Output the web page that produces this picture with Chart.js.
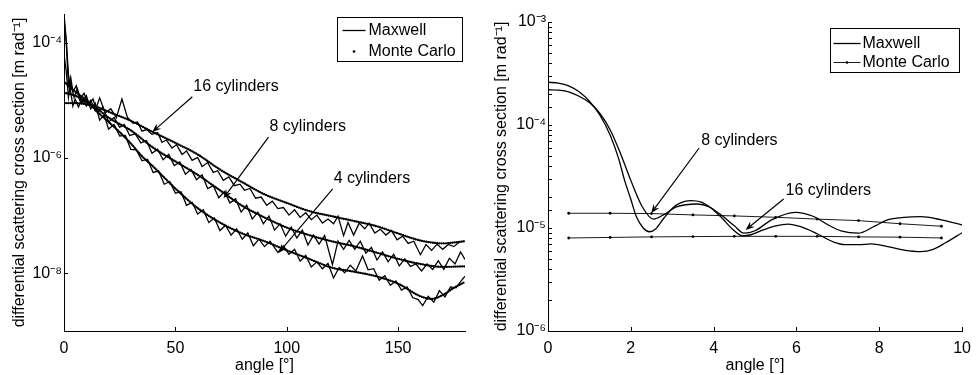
<!DOCTYPE html>
<html>
<head>
<meta charset="utf-8">
<script src="https://cdn.jsdelivr.net/npm/chart.js@4.4.0/dist/chart.umd.min.js"></script>
<style>
html, body { margin: 0; padding: 0; background: #fff; }
#wrap { position: relative; width: 979px; height: 375px; overflow: hidden; }
canvas { position: absolute; top: 0; }
#cLeft { left: 0; }
#cRight { left: 490px; }
</style>
</head>
<body>
<div id="wrap">
  <canvas id="cLeft" width="490" height="375"></canvas>
  <canvas id="cRight" width="489" height="375"></canvas>
</div>
<script>
// ---- left panel: 0..180 degrees ----
const mcAngle = [0, 5, 10, 15, 20, 30, 40, 50, 60, 70, 80, 90, 100, 110, 120, 130, 140, 150, 160, 170, 180];
const mc16 = [8.9e-6, 8.9e-6, 8.5e-6, 7.6e-6, 6.3e-6, 4.4e-6, 2.8e-6, 1.82e-6, 1.15e-6, 6.3e-7, 3.8e-7, 2.34e-7, 1.66e-7, 1.2e-7, 9.8e-8, 8.1e-8, 6.6e-8, 4.9e-8, 3.7e-8, 3.3e-8, 3.6e-8];
const mc8 = [1.35e-5, 1.2e-5, 9.3e-6, 7.1e-6, 5.0e-6, 3.0e-6, 1.51e-6, 8.7e-7, 5.1e-7, 2.75e-7, 1.48e-7, 9.3e-8, 6.2e-8, 4.6e-8, 3.6e-8, 2.95e-8, 2.3e-8, 1.78e-8, 1.45e-8, 1.29e-8, 1.32e-8];
const mc4Angle = [0, 5, 10, 15, 20, 25, 30, 35, 40, 50, 60, 70, 80, 90, 100, 110, 120, 130, 140, 150, 160, 165, 170, 175, 180];
const mc4 = [2.1e-5, 1.41e-5, 1.0e-5, 6.3e-6, 4.2e-6, 2.8e-6, 1.78e-6, 1.07e-6, 7.1e-7, 2.95e-7, 1.35e-7, 7.6e-8, 4.9e-8, 3.6e-8, 2.5e-8, 1.78e-8, 1.26e-8, 1.07e-8, 8.9e-9, 6.6e-9, 4.0e-9, 3.6e-9, 4.2e-9, 5.6e-9, 7.1e-9];

const mx16Angle = [0, 1, 2, 3, 4, 5, 6.5, 8, 10, 12, 14, 16, 18.5, 21, 23.5, 26, 28.5, 31, 33, 35, 37, 39.5, 42, 44, 46, 48.5, 50.5, 53, 55, 57.5, 60, 62, 64.5, 67, 69, 71.5, 74, 76.5, 79, 81, 83.5, 86, 88.5, 91, 93.5, 96, 98.5, 101, 103.5, 106, 108.5, 111, 113.5, 116, 118.5, 121, 123, 125.5, 127.5, 130, 132.5, 135, 137, 139.5, 142, 144.5, 147, 149.5, 152, 154.5, 157, 160, 162.5, 165, 167.5, 170, 172.5, 175, 177.5, 180];
const mx16 = [3.1e-4, 1.12e-4, 2.8e-5, 1.41e-5, 7.9e-6, 1.05e-5, 7.6e-6, 1.05e-5, 7.9e-6, 1.0e-5, 6.6e-6, 1.1e-5, 6.0e-6, 7.1e-6, 5.0e-6, 1.05e-5, 5.0e-6, 4.0e-6, 4.2e-6, 2.9e-6, 3.1e-6, 2.57e-6, 2.75e-6, 1.86e-6, 2.04e-6, 1.48e-6, 1.7e-6, 1.15e-6, 1.32e-6, 9.1e-7, 1.02e-6, 7.1e-7, 8.3e-7, 5.6e-7, 6.0e-7, 4.1e-7, 4.7e-7, 3.3e-7, 3.5e-7, 2.75e-7, 2.95e-7, 2.0e-7, 2.1e-7, 1.51e-7, 1.78e-7, 1.32e-7, 1.38e-7, 1.02e-7, 1.26e-7, 9.3e-8, 1.12e-7, 8.5e-8, 1.02e-7, 7.4e-8, 8.7e-8, 7.2e-8, 9.8e-8, 4.5e-8, 7.6e-8, 4.6e-8, 7.4e-8, 5.9e-8, 7.4e-8, 5.0e-8, 5.8e-8, 4.6e-8, 5.5e-8, 3.8e-8, 4.4e-8, 3.3e-8, 3.6e-8, 2.1e-8, 3.16e-8, 2.5e-8, 3.2e-8, 2.6e-8, 3.16e-8, 2.9e-8, 3.5e-8, 3.6e-8];

const mx8Angle = [0, 1, 2, 3, 4, 5.5, 7, 9, 11, 13, 15, 17.5, 20, 22.5, 25, 27, 29.5, 32, 34.5, 37, 39.5, 42, 44.5, 47, 49.5, 52, 54.5, 57, 59.5, 62, 64.5, 67, 69.5, 72, 74.5, 77, 79.5, 82, 84.5, 87, 89.5, 92, 94.5, 97, 99.5, 102, 104.5, 107, 109.5, 112, 114.5, 117, 120.5, 123, 125.5, 128, 130.5, 133, 135.5, 138, 140.5, 143, 145.5, 148, 150.5, 153, 155.5, 158, 160.5, 163, 165.5, 168, 170.5, 173, 175.5, 178, 180];
const mx8 = [2.5e-4, 1.0e-4, 1.78e-5, 2.5e-5, 1.41e-5, 1.78e-5, 1.0e-5, 1.32e-5, 8.3e-6, 1.05e-5, 6.0e-6, 7.6e-6, 4.2e-6, 5.0e-6, 3.4e-6, 3.8e-6, 2.45e-6, 2.6e-6, 1.82e-6, 2.0e-6, 1.2e-6, 1.41e-6, 9.3e-7, 1.15e-6, 7.4e-7, 8.5e-7, 5.2e-7, 6.3e-7, 4.2e-7, 5.1e-7, 2.95e-7, 3.3e-7, 2.04e-7, 2.6e-7, 1.66e-7, 1.95e-7, 1.15e-7, 1.51e-7, 8.7e-8, 1.15e-7, 7.2e-8, 9.8e-8, 5.6e-8, 7.2e-8, 4.4e-8, 6.3e-8, 4.1e-8, 5.6e-8, 3.1e-8, 4.6e-8, 3.2e-8, 4.5e-8, 1.41e-8, 3.6e-8, 2.6e-8, 3.7e-8, 2.6e-8, 3.6e-8, 2.24e-8, 2.8e-8, 1.7e-8, 2.34e-8, 1.58e-8, 2.14e-8, 1.35e-8, 1.78e-8, 1.32e-8, 1.45e-8, 1.1e-8, 1.45e-8, 1.17e-8, 1.66e-8, 1.17e-8, 1.82e-8, 1.45e-8, 2.34e-8, 1.74e-8];

const mx4Angle = [0, 1, 2, 3, 4.5, 6, 8, 10, 12, 14, 16, 18, 20, 22.5, 25, 27.5, 30, 32.5, 35, 37.5, 40, 42.5, 45, 47.5, 50, 52.5, 55, 57.5, 60, 62.5, 65, 67.5, 70, 72.5, 75, 77.5, 80, 82.5, 85, 87.5, 90, 92.5, 96, 98.5, 101, 103.5, 106, 108.5, 111, 113.5, 116, 118.5, 121, 123.5, 126, 128.5, 131, 134, 136.5, 139, 141.5, 144, 146.5, 149, 151.5, 154, 156.5, 159, 161, 163.5, 166, 168.5, 171, 173.5, 176, 178, 180];
const mx4 = [6.3e-5, 3.16e-5, 1.12e-5, 2.0e-5, 1.12e-5, 1.58e-5, 8.9e-6, 1.2e-5, 7.1e-6, 8.9e-6, 4.5e-6, 5.6e-6, 3.16e-6, 3.8e-6, 2.4e-6, 2.45e-6, 1.41e-6, 1.38e-6, 8.9e-7, 9.5e-7, 5.6e-7, 5.9e-7, 3.5e-7, 3.9e-7, 2.45e-7, 2.6e-7, 1.51e-7, 1.7e-7, 1.07e-7, 1.26e-7, 7.6e-8, 9.1e-8, 5.5e-8, 6.8e-8, 4.6e-8, 5.9e-8, 3.9e-8, 5.0e-8, 3.0e-8, 3.9e-8, 2.9e-8, 3.6e-8, 2.3e-8, 3.0e-8, 2.14e-8, 2.6e-8, 1.62e-8, 2.04e-8, 1.29e-8, 1.58e-8, 1.2e-8, 1.48e-8, 8.3e-9, 1.26e-8, 1.02e-8, 1.38e-8, 1.1e-8, 2.0e-8, 1.15e-8, 1.2e-8, 7.6e-9, 9.1e-9, 6.2e-9, 7.4e-9, 5.1e-9, 5.8e-9, 3.8e-9, 3.5e-9, 2.75e-9, 4.0e-9, 3.16e-9, 5.0e-9, 3.9e-9, 5.8e-9, 5.6e-9, 7.2e-9, 8.9e-9];

const leftXTicks = [0, 50, 100, 150];
const leftYTicks = [1e-8, 1e-6, 1e-4];

// ---- right panel: 0..10 degrees ----
const rMcAngle = [0.5, 1.5, 2.5, 3.5, 4.5, 5.5, 6.5, 7.5, 8.5, 9.5];
const rMc8 = [1.39e-5, 1.39e-5, 1.38e-5, 1.34e-5, 1.31e-5, 1.27e-5, 1.22e-5, 1.18e-5, 1.1e-5, 1.04e-5];
const rMc16 = [8.0e-6, 8.1e-6, 8.2e-6, 8.25e-6, 8.3e-6, 8.3e-6, 8.3e-6, 8.2e-6, 8.15e-6, 8.0e-6];

const rMx16Angle = [0, 0.25, 0.5, 0.75, 1.0, 1.25, 1.5, 1.7, 1.85, 2.0, 2.13, 2.3, 2.45, 2.6, 2.8, 3.0, 3.2, 3.45, 3.7, 3.95, 4.2, 4.45, 4.7, 4.9, 5.2, 5.5, 5.8, 6.1, 6.5, 6.9, 7.17, 7.5, 7.8, 8.2, 8.6, 9.0, 9.3, 9.6, 10];
const rMx16 = [2.6e-4, 2.55e-4, 2.4e-4, 2.1e-4, 1.7e-4, 1.25e-4, 8.0e-5, 4.8e-5, 2.9e-5, 1.9e-5, 1.3e-5, 1.0e-5, 9.2e-6, 9.8e-6, 1.25e-5, 1.55e-5, 1.75e-5, 1.84e-5, 1.78e-5, 1.55e-5, 1.25e-5, 9.8e-6, 8.4e-6, 8.6e-6, 9.6e-6, 1.05e-5, 1.09e-5, 1.03e-5, 8.8e-6, 7.3e-6, 6.9e-6, 6.9e-6, 7.0e-6, 6.6e-6, 6.1e-6, 5.9e-6, 6.2e-6, 7.2e-6, 9.0e-6];
const rMx8Angle = [0, 0.25, 0.5, 0.75, 1.0, 1.25, 1.5, 1.75, 2.0, 2.28, 2.55, 2.8, 3.1, 3.6, 3.9, 4.2, 4.5, 4.73, 5.0, 5.4, 5.97, 6.4, 6.77, 7.1, 7.49, 7.9, 8.2, 8.6, 9.0, 9.5, 10];
const rMx8 = [2.2e-4, 2.18e-4, 2.1e-4, 1.9e-4, 1.65e-4, 1.3e-4, 9.0e-5, 5.3e-5, 2.9e-5, 1.6e-5, 1.22e-5, 1.35e-5, 1.6e-5, 1.71e-5, 1.6e-5, 1.32e-5, 1.05e-5, 8.9e-6, 9.4e-6, 1.2e-5, 1.42e-5, 1.3e-5, 1.07e-5, 9.3e-6, 8.9e-6, 1.05e-5, 1.2e-5, 1.27e-5, 1.29e-5, 1.2e-5, 1.07e-5];

const rightXTicks = [0, 2, 4, 6, 8, 10];

const legendLabels = ['Maxwell', 'Monte Carlo'];
const yTitle = 'differential scattering cross section [m rad\u207B\u00B9]';
const xTitle = 'angle [\u00B0]';

const FONT = "'Liberation Sans', Arial, Helvetica, sans-serif";
const font16 = { family: FONT, size: 16 };

function pts(xs, ys) {
	return xs.map((x, i) => ({ x: x, y: ys[i] }));
}

function powLabel(v) {
	let e = Math.round(Math.log10(v));
	if (Math.abs(Math.log10(v) - e) > 1e-6) {
		return '';
	}
	const sup = { '-': '\u207B', '0': '\u2070', '1': '\u00B9', '2': '\u00B2', '3': '\u00B3', '4': '\u2074', '5': '\u2075', '6': '\u2076', '7': '\u2077', '8': '\u2078', '9': '\u2079' };
	return '10' + String(e).split('').map(c => sup[c]).join('');
}

function arrow(ctx, x0, y0, x1, y1) {
	let ang = Math.atan2(y1 - y0, x1 - x0);
	let c = Math.cos(ang), s = Math.sin(ang);
	let len = 9, half = 3.5, back = 6;
	ctx.beginPath();
	ctx.moveTo(x0, y0);
	ctx.lineTo(x1 - c * back, y1 - s * back);
	ctx.stroke();
	ctx.beginPath();
	ctx.moveTo(x1, y1);
	ctx.lineTo(x1 - len * c + half * s, y1 - len * s - half * c);
	ctx.lineTo(x1 - back * c, y1 - back * s);
	ctx.lineTo(x1 - len * c - half * s, y1 - len * s + half * c);
	ctx.closePath();
	ctx.fill();
}

// inward ticks, arrows with labels, legend box
const decor = {
	id: 'decor',
	afterDraw(chart, args, o) {
		const ctx = chart.ctx;
		const a = chart.chartArea;
		const sx = chart.scales.x, sy = chart.scales.y;
		ctx.save();
		ctx.strokeStyle = '#000';
		ctx.fillStyle = '#000';
		ctx.lineWidth = 1;
		ctx.beginPath();
		sx.ticks.forEach(t => {
			let p = Math.round(sx.getPixelForValue(t.value)) + 0.5;
			ctx.moveTo(p, a.bottom);
			ctx.lineTo(p, a.bottom - 4);
		});
		sy.ticks.forEach(t => {
			let p = Math.round(sy.getPixelForValue(t.value)) + 0.5;
			ctx.moveTo(a.left, p);
			ctx.lineTo(a.left + 4, p);
		});
		ctx.stroke();

		ctx.font = '16px ' + FONT;
		ctx.textBaseline = 'middle';
		ctx.textAlign = 'left';
		ctx.lineWidth = 1.2;
		o.notes.forEach(n => {
			let x0 = sx.getPixelForValue(n.tail[0]), y0 = sy.getPixelForValue(n.tail[1]);
			let x1 = sx.getPixelForValue(n.tip[0]), y1 = sy.getPixelForValue(n.tip[1]);
			arrow(ctx, x0, y0, x1, y1);
			ctx.fillText(n.text, x0 + n.dx, y0 + n.dy);
		});

		const L = o.legend;
		let bx = Math.round(a.right - L.right - L.w) + 0.5;
		let by = Math.round(a.top + L.top) + 0.5;
		ctx.fillStyle = '#fff';
		ctx.fillRect(bx, by, L.w, L.h);
		ctx.lineWidth = 1;
		ctx.strokeRect(bx, by, L.w, L.h);
		ctx.fillStyle = '#000';
		ctx.lineWidth = 1.3;
		ctx.beginPath();
		ctx.moveTo(bx + L.l0, by + L.y1);
		ctx.lineTo(bx + L.l1, by + L.y1);
		ctx.stroke();
		ctx.fillText(legendLabels[0], bx + L.tx, by + L.y1 + 0.5);
		if (L.mcLine) {
			ctx.lineWidth = 0.9;
			ctx.beginPath();
			ctx.moveTo(bx + L.l0, by + L.y2);
			ctx.lineTo(bx + L.l1, by + L.y2);
			ctx.stroke();
		}
		ctx.beginPath();
		ctx.arc(bx + (L.l0 + L.l1) / 2, by + L.y2, 1.3, 0, Math.PI * 2);
		ctx.fill();
		ctx.fillText(legendLabels[1], bx + L.tx, by + L.y2 + 0.5);
		ctx.restore();
	}
};

function axisCommon() {
	return {
		grid: { display: false, drawTicks: false },
		border: { display: true, color: '#000', width: 1 },
	};
}

function makeChart(el, cfg) {
	return new Chart(el, {
		type: 'line',
		data: { datasets: cfg.datasets },
		options: {
			responsive: false,
			animation: false,
			events: [],
			layout: { padding: { top: cfg.top, right: cfg.right, left: 0, bottom: 0 } },
			scales: {
				x: Object.assign(axisCommon(), {
					type: 'linear', min: cfg.xMin, max: cfg.xMax,
					afterBuildTicks: s => { s.ticks = cfg.xTicks.map(v => ({ value: v })); },
					afterFit: s => { s.height = 44; },
					ticks: { color: '#000', font: font16, padding: cfg.xPad, maxRotation: 0, autoSkip: false },
					title: { display: true, text: xTitle, color: '#000', font: font16, padding: { top: 0, bottom: 0 } },
				}),
				y: Object.assign(axisCommon(), {
					type: 'logarithmic', min: cfg.yMin, max: cfg.yMax,
					afterBuildTicks: cfg.yTicks ? (s => { s.ticks = cfg.yTicks.map(v => ({ value: v })); }) : undefined,
					afterFit: s => { s.width = cfg.yWidth; },
					ticks: { color: '#000', font: font16, padding: 2, autoSkip: false, callback: v => powLabel(v) },
					title: { display: true, text: yTitle, color: '#000', font: font16, padding: { top: cfg.yTitlePad, bottom: 0 } },
				}),
			},
			plugins: {
				legend: { display: false },
				tooltip: { enabled: false },
				decor: { notes: cfg.notes, legend: cfg.legend },
			},
		},
		plugins: [decor],
	});
}

function maxwellSet(label, xs, ys, smooth) {
	return {
		label: label, data: pts(xs, ys), borderColor: '#000', borderWidth: 1.3,
		pointRadius: 0, fill: false, tension: smooth ? 0.4 : 0,
		cubicInterpolationMode: smooth ? 'monotone' : 'default',
	};
}

function dotSet(label, xs, ys) {
	return {
		label: label, data: pts(xs, ys), borderColor: '#000', borderWidth: 2.3,
		borderDash: [0.1, 2.1], borderCapStyle: 'round',
		pointRadius: 0, fill: false, tension: 0.4, cubicInterpolationMode: 'monotone',
	};
}

function markSet(label, xs, ys) {
	return {
		label: label, data: pts(xs, ys), borderColor: '#000', borderWidth: 0.9,
		pointRadius: 1.4, pointBackgroundColor: '#000', pointBorderWidth: 0,
		fill: false, tension: 0,
	};
}

makeChart(document.getElementById('cLeft'), {
	datasets: [
		maxwellSet('Maxwell 16', mx16Angle, mx16, false),
		maxwellSet('Maxwell 8', mx8Angle, mx8, false),
		maxwellSet('Maxwell 4', mx4Angle, mx4, false),
		dotSet('Monte Carlo 16', mcAngle, mc16),
		dotSet('Monte Carlo 8', mcAngle, mc8),
		dotSet('Monte Carlo 4', mc4Angle, mc4),
	],
	xMin: 0, xMax: 180, xTicks: leftXTicks, xPad: 8,
	yMin: 1e-9, yMax: 3.12e-4, yTicks: leftYTicks,
	yWidth: 64, yTitlePad: 10, top: 14, right: 25,
	notes: [
		{ text: '16 cylinders', tail: [57.6, 1.15e-5], tip: [39.6, 2.8e-6], dx: 1, dy: -10 },
		{ text: '8 cylinders', tail: [91.8, 2.3e-6], tip: [71.6, 2.0e-7], dx: 1, dy: -10 },
		{ text: '4 cylinders', tail: [120.6, 2.9e-7], tip: [96.3, 2.25e-8], dx: 1, dy: -10 },
	],
	legend: { w: 125, h: 44, right: 3, top: 3, l0: 5, l1: 28, tx: 31, y1: 13, y2: 34, mcLine: false },
});

makeChart(document.getElementById('cRight'), {
	datasets: [
		maxwellSet('Maxwell 16', rMx16Angle, rMx16, true),
		maxwellSet('Maxwell 8', rMx8Angle, rMx8, true),
		markSet('Monte Carlo 8', rMcAngle, rMc8),
		markSet('Monte Carlo 16', rMcAngle, rMc16),
	],
	xMin: 0, xMax: 10, xTicks: rightXTicks, xPad: 8,
	yMin: 1e-6, yMax: 1e-3, yTicks: null,
	yWidth: 58, yTitlePad: 2, top: 22, right: 14,
	notes: [
		{ text: '8 cylinders', tail: [3.65, 5.98e-5], tip: [2.49, 1.39e-5], dx: 2, dy: -7 },
		{ text: '16 cylinders', tail: [5.69, 1.91e-5], tip: [4.77, 9.57e-6], dx: 2, dy: -8 },
	],
	legend: { w: 129, h: 44, right: 3, top: 6, l0: 3, l1: 30, tx: 32, y1: 15, y2: 34, mcLine: true },
});
</script>
</body>
</html>
